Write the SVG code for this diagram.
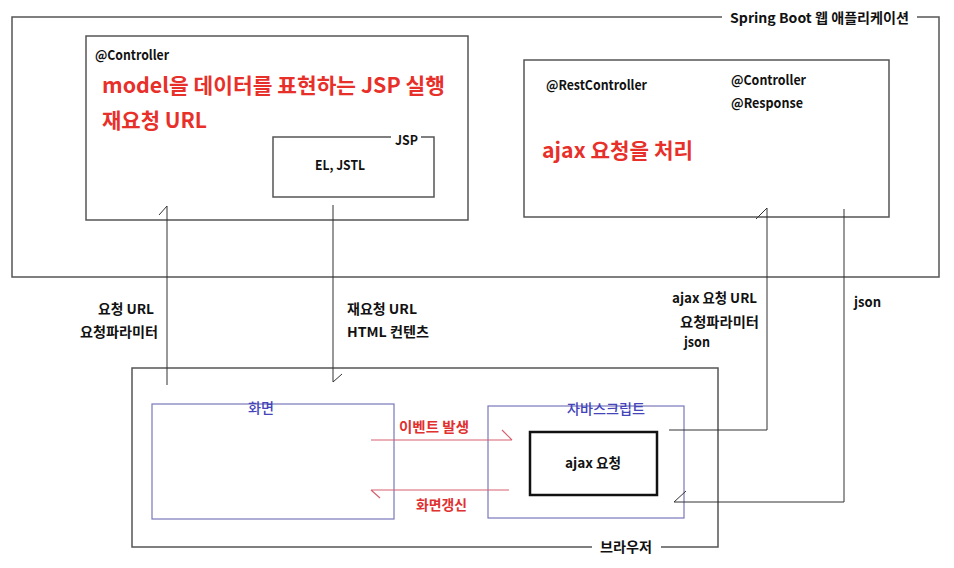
<svg xmlns="http://www.w3.org/2000/svg" width="954" height="568" viewBox="0 0 954 568">
<style>
.box{fill:none;stroke:#555;stroke-width:1.5}
.blue{fill:none;stroke:#7777bb;stroke-width:1.2}
.t{font-family:"Noto Sans CJK KR","Liberation Sans",sans-serif;font-size:13.5px;font-weight:bold;fill:#111}
.r{font-family:"Noto Sans CJK KR","Liberation Sans",sans-serif;font-size:21px;font-weight:bold;fill:#e8302a}
.rs{font-family:"Noto Sans CJK KR","Liberation Sans",sans-serif;font-size:14px;font-weight:bold;fill:#e03030}
.b{font-family:"Noto Sans CJK KR","Liberation Sans",sans-serif;font-size:14px;font-weight:500;fill:#4444bb}
.ln{fill:none;stroke:#333;stroke-width:1}
.rl{fill:none;stroke:#d86070;stroke-width:1.2}
</style>
<rect width="954" height="568" fill="#fff"/>
<g id="springboot">
<path class="box" d="M722,17 H12 V277 H939 V17 H917"/>
<text class="t" x="730" y="23" textLength="179" lengthAdjust="spacingAndGlyphs">Spring Boot 웹 애플리케이션</text>
</g>
<g id="controller">
<rect class="box" x="86" y="36" width="382" height="184"/>
<text class="t" x="95" y="60" textLength="74" lengthAdjust="spacingAndGlyphs">@Controller</text>
<text class="r" x="102" y="93" textLength="343" lengthAdjust="spacingAndGlyphs">model을 데이터를 표현하는 JSP 실행</text>
<text class="r" x="102" y="128" textLength="105" lengthAdjust="spacingAndGlyphs">재요청 URL</text>
</g>
<g id="jsp">
<path class="box" d="M391,137 H273 V197 H434 V137 H421"/>
<text class="t" x="395" y="145" textLength="23" lengthAdjust="spacingAndGlyphs">JSP</text>
<text class="t" x="315" y="170" textLength="50" lengthAdjust="spacingAndGlyphs">EL, JSTL</text>
</g>
<g id="restcontroller">
<rect class="box" x="524" y="60" width="365" height="157"/>
<text class="t" x="546" y="90" textLength="101" lengthAdjust="spacingAndGlyphs">@RestController</text>
<text class="t" x="731" y="85" textLength="75" lengthAdjust="spacingAndGlyphs">@Controller</text>
<text class="t" x="731" y="108" textLength="72" lengthAdjust="spacingAndGlyphs">@Response</text>
<text class="r" x="542" y="158" textLength="151" lengthAdjust="spacingAndGlyphs">ajax 요청을 처리</text>
</g>
<g id="browser">
<path class="box" d="M592,547 H132 V368 H718 V547 H661"/>
<text class="t" x="600" y="552" textLength="52" lengthAdjust="spacingAndGlyphs">브라우저</text>
</g>
<g id="screen">
<rect class="blue" x="152" y="404" width="242" height="115"/>
<text class="b" x="248" y="413" textLength="26" lengthAdjust="spacingAndGlyphs">화면</text>
</g>
<g id="javascript">
<rect class="blue" x="488" y="406" width="196" height="112"/>
<text class="b" x="567" y="414" textLength="78" lengthAdjust="spacingAndGlyphs">자바스크립트</text>
</g>
<g id="ajax">
<rect x="530" y="432" width="127" height="63" fill="none" stroke="#111" stroke-width="2.5"/>
<text class="t" x="565" y="468" textLength="56" lengthAdjust="spacingAndGlyphs">ajax 요청</text>
</g>
<g id="connectors">
<path class="ln" d="M167,385 V206 M167,206 L159,215"/>
<path class="ln" d="M333,205 V382 M333,382 L342,374"/>
<path class="ln" d="M669,430 H767 V208 M767,208 L756,219"/>
<path class="ln" d="M844,209 V502 H674 M674,502 L686,491"/>
<path class="rl" d="M371,440 H512 M512,440 L502,430"/>
<path class="rl" d="M509,490 H371 M371,490 L380,498"/>
</g>
<g id="labels">
<text class="t" x="98" y="314" textLength="56" lengthAdjust="spacingAndGlyphs">요청 URL</text>
<text class="t" x="80" y="337" textLength="78" lengthAdjust="spacingAndGlyphs">요청파라미터</text>
<text class="t" x="347" y="314" textLength="70" lengthAdjust="spacingAndGlyphs">재요청 URL</text>
<text class="t" x="347" y="337" textLength="82" lengthAdjust="spacingAndGlyphs">HTML 컨텐츠</text>
<text class="t" x="672" y="303" textLength="85" lengthAdjust="spacingAndGlyphs">ajax 요청 URL</text>
<text class="t" x="680" y="327" textLength="79" lengthAdjust="spacingAndGlyphs">요청파라미터</text>
<text class="t" x="684" y="347" textLength="26" lengthAdjust="spacingAndGlyphs">json</text>
<text class="t" x="854" y="307" textLength="27" lengthAdjust="spacingAndGlyphs">json</text>
<text class="rs" x="399" y="432" textLength="70" lengthAdjust="spacingAndGlyphs">이벤트 발생</text>
<text class="rs" x="416" y="510" textLength="51" lengthAdjust="spacingAndGlyphs">화면갱신</text>
</g>
</svg>
